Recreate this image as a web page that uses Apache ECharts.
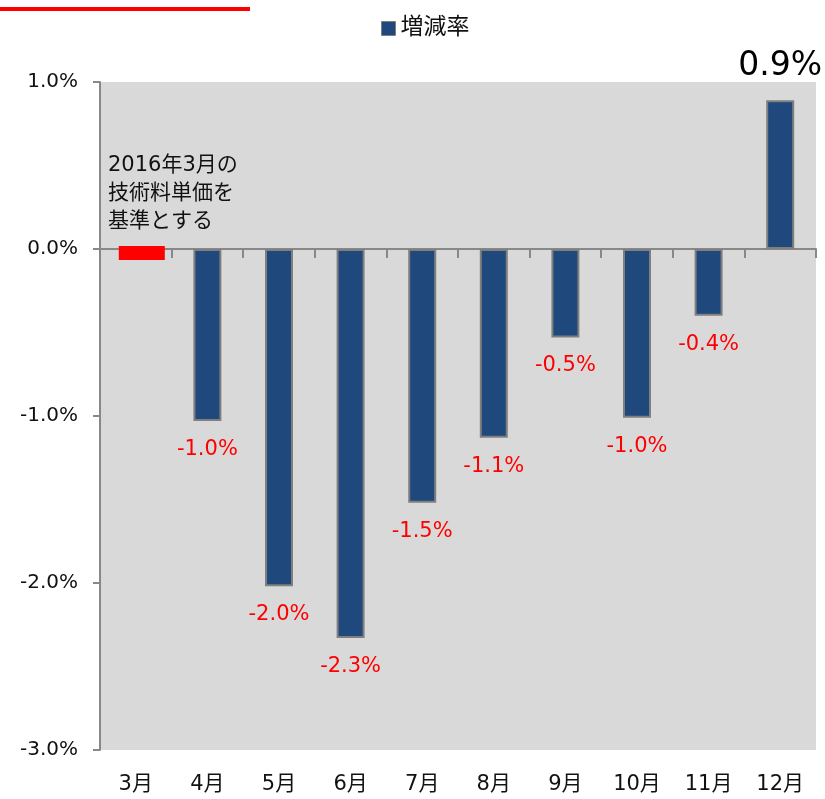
<!DOCTYPE html>
<html>
<head>
<meta charset="utf-8">
<script src="https://cdn.jsdelivr.net/npm/echarts@6/dist/echarts.min.js"></script>
<style>
  html, body { margin: 0; padding: 0; background: #fff; }
  #main { width: 825px; height: 799px; }
</style>
</head>
<body>
<div id="main"></div>
<script>
// 月別
var months = ['3月', '4月', '5月', '6月', '7月', '8月', '9月', '10月', '11月', '12月'];
// 増減率 (%)
var rates = [null, -1.03, -2.02, -2.33, -1.52, -1.13, -0.53, -1.01, -0.40, 0.89];
var rateLabels = ['', '-1.0%', '-2.0%', '-2.3%', '-1.5%', '-1.1%', '-0.5%', '-1.0%', '-0.4%', '0.9%'];
// 基準月 (3月) の目印
var baseMark = [0, null, null, null, null, null, null, null, null, null];

var font = '"DejaVu Sans", "Noto Sans CJK JP", sans-serif';
var chart = echarts.init(document.getElementById('main'));

var barData = rates.map(function (v, i) {
  if (v === null) return null;
  var pos = v >= 0;
  return {
    value: v,
    label: {
      show: true,
      position: pos ? 'top' : 'bottom',
      distance: pos ? 17 : 18,
      color: pos ? '#000' : '#ff0000',
      fontSize: pos ? 33 : 21,
      fontFamily: font,
      formatter: rateLabels[i]
    }
  };
});

chart.setOption({
  animation: false,
  legend: {
    top: 12,
    left: 376,
    itemWidth: 14,
    itemHeight: 14,
    itemGap: 6,
    icon: 'rect',
    data: ['増減率'],
    itemStyle: { borderColor: '#7f7f7f', borderWidth: 1 },
    textStyle: { fontSize: 23, color: '#111', fontFamily: font }
  },
  grid: { left: 100, right: 9, top: 82, bottom: 49, backgroundColor: '#d9d9d9', show: true, borderWidth: 0 },
  xAxis: [{
    type: 'category',
    data: months,
    position: 'bottom',
    axisLine: { show: false, onZero: false },
    axisTick: { show: false },
    axisLabel: { color: '#111', fontSize: 21, fontFamily: font, margin: 24 }
  }, {
    type: 'category',
    data: months,
    axisLine: { show: true, onZero: true, lineStyle: { color: '#888', width: 2 } },
    axisTick: { show: true, inside: true, length: 9, lineStyle: { color: '#888', width: 2 } },
    axisLabel: { show: false }
  }],
  yAxis: {
    type: 'value',
    min: -3,
    max: 1,
    interval: 1,
    axisLine: { show: true, lineStyle: { color: '#888', width: 2 } },
    axisTick: { show: true, length: 7, lineStyle: { color: '#888', width: 2 } },
    splitLine: { show: false },
    axisLabel: {
      color: '#111', fontSize: 20, fontFamily: font, margin: 22,
      formatter: function (v) { return v.toFixed(1) + '%'; }
    }
  },
  series: [{
    name: '増減率',
    type: 'bar',
    xAxisIndex: 1,
    data: barData,
    barWidth: 28,
    itemStyle: { color: '#1f497d', borderColor: '#7f7f7f', borderWidth: 2 }
  }, {
    name: '基準',
    type: 'scatter',
    xAxisIndex: 1,
    data: baseMark,
    symbol: 'rect',
    symbolSize: [46, 14],
    symbolOffset: [6, 4],
    itemStyle: { color: '#ff0000', opacity: 1 },
    z: 5
  }],
  graphic: [{
    type: 'rect',
    left: 0,
    top: 7,
    shape: { width: 250, height: 4 },
    style: { fill: '#ff0000' }
  }, {
    type: 'text',
    left: 108,
    top: 152,
    style: {
      text: '2016年3月の\n技術料単価を\n基準とする',
      fill: '#111',
      font: '21px ' + font,
      lineHeight: 28
    },
    z: 10
  }]
});
</script>
</body>
</html>
